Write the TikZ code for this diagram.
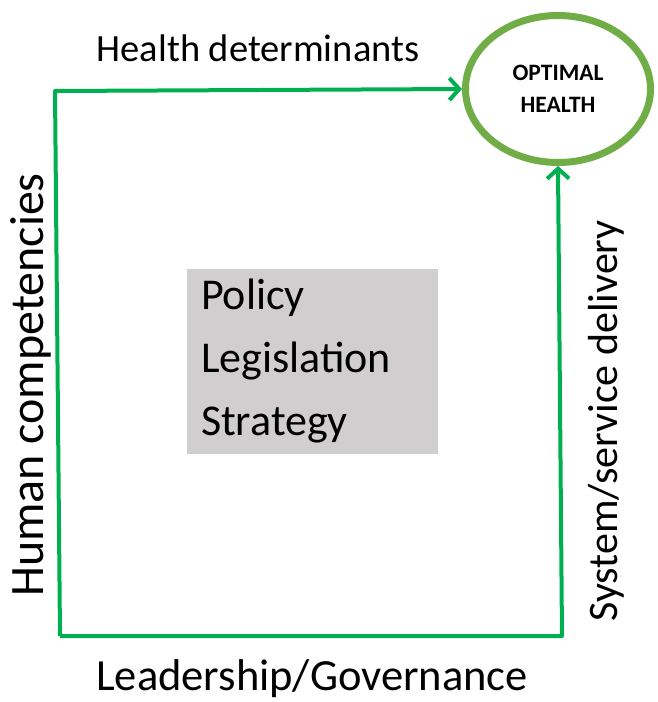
\documentclass[tikz,border=0pt]{standalone}
\usepackage{fontspec}
\setmainfont{Carlito}
\usetikzlibrary{shapes.geometric,arrows.meta,positioning}
\definecolor{linegreen}{RGB}{0,176,80}
\definecolor{ringgreen}{RGB}{112,173,71}
\definecolor{boxgray}{RGB}{208,206,206}
\tikzset{
>={Straight Barb[length=10pt,width=22pt]},
  link/.style={draw=linegreen, line width=4pt, line join=round},
  goal/.style={
    ellipse,
    draw=ringgreen, line width=7pt,
    minimum width=185pt,
    minimum height=147pt,
    inner sep=0pt,
    align=center,
    font=\fontsize{23.5}{32}\selectfont\bfseries},
  panel/.style={
    rectangle,
    fill=boxgray,
    text width=222pt,
    minimum width=251pt,
    minimum height=185pt,
    inner xsep=14pt,
    align=left,
    font=\fontsize{44}{63}\selectfont},
}

\begin{document}
\begin{tikzpicture}[
    x=1pt, y=-1pt,
    side label/.style={anchor=base, font=\fontsize{44.5}{52}\selectfont},
    every node/.style={color=black}
    ]
    \useasboundingbox (0,0) rectangle (657,702);

    %corners
    \coordinate (tl) at (55,91);
    \coordinate (bl) at (60,636);
    \coordinate (br) at (562,636);

    %target and centre box
    \node[goal] (health) at (558,89) {OPTIMAL\\HEALTH};
    \node[panel] (plan) at (312,361) {Policy\\Legislation\\Strategy};

    %connectors
    \draw[link, ->] (bl) -- (tl) -- (health.west);
    \draw[link, ->] (bl) -- (br) -- (health.south);

    %labels
    \node[side label, font=\fontsize{38.5}{46}\selectfont] (determinants)
        at (258,61) {Health determinants};
    \node[side label, rotate=90, font=\fontsize{48}{56}\selectfont] (competencies)
        at (43,385) {Human competencies};
    \node[side label] (leadership) at (312,690) {Leadership/Governance};
    \node[side label, rotate=90, font=\fontsize{42}{50}\selectfont] (delivery)
        at (617,421) {System/service delivery};

\end{tikzpicture}
\end{document}
